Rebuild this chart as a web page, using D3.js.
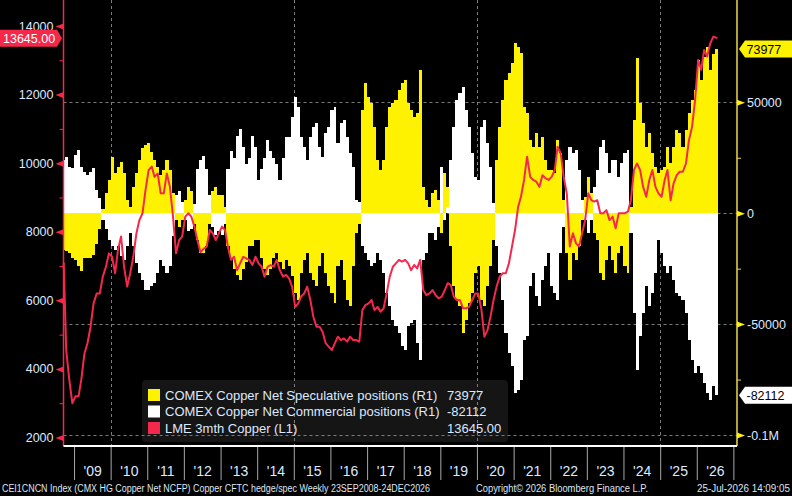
<!DOCTYPE html>
<html><head><meta charset="utf-8">
<script src="https://cdn.jsdelivr.net/npm/d3@7/dist/d3.min.js"></script>
<style>html,body{margin:0;padding:0;background:#000;}svg{display:block;}</style>
</head><body>
<svg id="chart" width="792" height="496"></svg>
<script>
// ---- data (monthly, Sep 2008 .. Jul 2026) ----
const firstMonth = [2008, 8];   // Sep 2008 (month index 0-based)
const lmeCopper = [
 7100,4550,3680,3000,
 3200,3200,3700,4450,4750,5230,5910,6200,6200,6690,6980,7370,
 7270,6790,7470,7860,6980,6400,6790,7270,7955,8340,8540,9220,
 9800,9900,9600,9700,9120,9120,9700,9310,8440,7370,7760,7860,
 8440,8540,8440,8150,7760,7400,7500,7560,8050,7955,7760,7955,
 8150,8050,7560,7180,7270,6880,7080,7270,7220,7180,7030,7270,
 7080,6980,6690,6980,7030,6980,7180,6880,6690,6740,6640,6400,
 5810,5910,6110,6200,6400,6010,5520,5230,5230,5085,4750,4650,
 4550,4750,4940,4840,4890,4795,4940,4840,4840,4795,5720,5860,
 5910,6010,5720,5810,5670,5770,6200,6690,6980,7080,7180,7130,
 7180,7080,6880,7030,6930,7180,6300,6150,6200,6300,6150,6060,
 6110,6300,6500,6450,6110,6010,6010,5770,5770,5810,6010,6200,
 6200,5720,4940,5130,5520,6010,6400,6690,6790,6790,7080,7560,
 8050,8730,9020,9510,10190,9600,9510,9460,9310,9650,9560,9510,
 9600,9800,10480,10290,9600,9120,7570,7955,7660,7570,7955,8340,
 9120,8920,8880,8920,8540,8540,8630,8340,8440,8100,8540,8540,
 8540,8590,8920,9800,9990,9800,9310,9020,9510,9800,9310,9120,
 9020,9510,9800,8920,9410,9650,9750,9750,9990,10670,11060,11840,
 13010,12720,13300,13110,13490,13690,13645
];
const specNet = [
 -16500,-17000,-18000,-20000,
 -21000,-24000,-26000,-20000,-20000,-20000,-19000,-14000,-7000,2000,9000,15000,
 25500,18000,21000,23300,18000,6000,3000,12000,18000,24000,29300,30800,
 31500,27800,24000,21000,17300,19500,24000,19500,9000,-3000,-6000,-3000,
 6000,12000,10000,-5000,-12000,-18000,-18000,-15000,-5000,10000,12000,8000,
 8000,3000,-15000,-20000,-25000,-28000,-30000,-25000,-22000,-15000,-15000,-12000,
 -12000,-20000,-25000,-28000,-25000,-20000,-18000,-22000,-25000,-21000,-24000,-28500,
 -36000,-39000,-27000,-21000,-18000,-27000,-30000,-33000,-24000,-18000,-27000,-33000,
 -36000,-40500,-24000,-21000,-30000,-39000,-42000,-24000,-9000,-5000,46500,58500,
 52500,49500,39000,24000,19500,24000,39000,48000,49500,51000,55500,58500,
 60000,49500,46500,43500,45000,64500,12000,6000,3000,9000,10500,6000,
 -9000,18000,12000,-15000,-33000,-39000,-42000,-54000,-48000,-40500,-36000,-27000,
 -24000,-39000,-42000,-33000,-24000,-12000,24000,39000,51000,60000,63000,67500,
 76600,75100,72100,48000,45000,33000,30000,36000,30000,34500,24000,19500,
 19500,18000,33000,27000,6000,-18000,-30000,-18000,-21000,-15000,-3000,7500,
 16500,9000,-9000,-12000,-27000,-30000,-21000,-15000,-21000,-27000,-18000,-15000,
 -24000,-27000,3000,42000,70000,49500,40500,30000,36000,27000,21000,18000,
 19500,21000,30000,22500,30000,37500,36000,30000,37500,45000,51000,55500,
 69000,60000,70500,75000,64500,72000,73977
];
const commNet = [
 24000,25500,21000,20300,
 26300,28500,21000,18800,17300,18800,20300,10500,6800,-3000,-7000,-12000,
 -15000,-16500,-15000,-19500,-21000,-15000,-9000,-15000,-22500,-27000,-30000,-34500,
 -34500,-33000,-31500,-27000,-21000,-24000,-27000,-24000,-10500,8000,10000,5000,
 -3000,-8000,-7000,4000,20000,24000,26000,20000,8000,-6000,-10000,-8000,
 -10000,-5000,20000,28000,25000,35000,38000,30000,22000,25000,35000,30000,
 15000,20000,25000,33000,28000,25000,22000,15000,25000,34500,34500,43500,
 52600,48000,34500,30000,24000,34500,39000,40500,30000,25500,36000,39000,
 46500,48000,31500,40500,42000,34500,27000,21000,6000,5000,-15000,-18000,
 -21000,-24000,-22500,-18000,-21000,-27000,-36000,-42000,-48000,-51000,-54000,-60000,
 -61500,-51000,-49500,-48000,-58500,-66000,-21000,-18000,-9000,-9000,-12000,-6000,
 21000,-3000,3000,24000,39000,51000,54000,57000,46500,39000,27000,16500,
 15000,39000,42000,31500,21000,4500,-15000,-27000,-39000,-54000,-63000,-69000,
 -81100,-79600,-75100,-57000,-55500,-33000,-27000,-37500,-42000,-30000,-24000,-18000,
 -33000,-36000,-39000,-18000,-6000,24000,30000,27000,28500,19500,6000,-3000,
 -9000,-3000,12000,19500,30000,33000,27000,18000,24000,24000,16500,22500,
 27000,28500,-9000,-45000,-70500,-55500,-45000,-33000,-42000,-36000,-27000,-12000,
 -18000,-24000,-27000,-24000,-30000,-36000,-37500,-39000,-45000,-57000,-66000,-72000,
 -69000,-72000,-76500,-81000,-84000,-78000,-82112
];
const yearLabels = ["'09","'10","'11","'12","'13","'14","'15","'16","'17","'18","'19","'20","'21","'22","'23","'24","'25","'26"];
const leftTicks = [2000,4000,6000,8000,10000,12000,14000];
const rightTicks = [-100000,-50000,0,50000];
const legendNames = ["COMEX Copper Net Speculative positions (R1)","COMEX Copper Net Commercial positions (R1)","LME 3mth Copper (L1)"];
const legendValues = ["73977","-82112","13645.00"];
const footerLeft = "CEI1CNCN Index (CMX HG Copper Net NCFP) Copper CFTC hedge/spec Weekly 23SEP2008-24DEC2026";
const footerMid = "Copyright\u00a9 2026 Bloomberg Finance L.P.";
const footerRight = "25-Jul-2026 14:09:05";

// ---- setup ----
const C = {yellow:"#fff200", white:"#ffffff", red:"#f5284c", axisY:"#efd64a", text:"#dde9ff", grid:"#7c7c7c"};
const svg = d3.select("#chart");
svg.append("rect").attr("width",792).attr("height",496).attr("fill","#000");
const font = "'Liberation Sans', Arial, sans-serif";

const L = 63.5, R = 737, B = 446;
const dStart = new Date(2008,8,18), dEnd = new Date(2027,1,6);
const x = d3.scaleTime().domain([dStart,dEnd]).range([L,R]);
const yL = d3.scaleLinear().domain([2000,14000]).range([437.5,26]);
const yR = d3.scaleLinear().domain([-100000,50000]).range([435,102.3]);

const months = lmeCopper.map((_,i)=>new Date(firstMonth[0], firstMonth[1]+i, 1));
const dataStart = new Date(2008,8,20), dataEnd = new Date(2026,6,25);
const barEnd = new Date(2026,7,1);

// gridlines
function drawGrid(g){
  g.selectAll(".h").data(rightTicks).join("line").attr("class","h")
   .attr("x1",L).attr("x2",R).attr("y1",d=>Math.round(yR(d))+0.5).attr("y2",d=>Math.round(yR(d))+0.5)
   .attr("stroke",C.grid).attr("stroke-dasharray","3,3");
  g.selectAll(".v").data([2010,2015,2020,2025]).join("line").attr("class","v")
   .attr("x1",d=>Math.round(x(new Date(d,0,1)))+0.5).attr("x2",d=>Math.round(x(new Date(d,0,1)))+0.5)
   .attr("y1",0).attr("y2",B).attr("stroke",C.grid).attr("stroke-dasharray","3,3");
}
drawGrid(svg.append("g"));

// bars as stepped areas (one block per month)
function bars(vals, color){
  const steps = vals.map((v,i)=>[i===0?dataStart:months[i], v]);
  steps.push([barEnd, vals[vals.length-1]]);
  svg.append("path").datum(steps)
    .attr("d", d3.area().curve(d3.curveStepAfter).x(d=>x(d[0])).y0(yR(0)).y1(d=>yR(d[1])))
    .attr("fill",color).attr("shape-rendering","crispEdges");
}
bars(specNet, C.yellow);
bars(commNet, C.white);

// red line
const pts = lmeCopper.map((v,i)=>{
  let dt = new Date(months[i].getFullYear(), months[i].getMonth(), 15);
  if(i===0) dt = dataStart;
  if(i===lmeCopper.length-1) dt = dataEnd;
  return [dt,v];
});
svg.append("path").datum(pts)
  .attr("d", d3.line().x(d=>x(d[0])).y(d=>yL(d[1])))
  .attr("fill","none").attr("stroke",C.red).attr("stroke-width",2).attr("stroke-linejoin","round");

// legend box
const lg = svg.append("g");
lg.append("rect").attr("x",142).attr("y",380).attr("width",366).attr("height",62).attr("rx",4).attr("fill","#151515");
svg.append("clipPath").attr("id","lgclip").append("rect").attr("x",142).attr("y",380).attr("width",366).attr("height",62);
drawGrid(svg.append("g").attr("clip-path","url(#lgclip)"));
const lcol = [C.yellow, C.white, C.red];
const lgt = svg.append("g");
legendNames.forEach((n,i)=>{
  const yy = 389 + i*16.5;
  lgt.append("rect").attr("x",148).attr("y",yy).attr("width",12).attr("height",12).attr("fill",lcol[i]);
  lgt.append("text").attr("x",165).attr("y",yy+10.5).text(n);
  lgt.append("text").attr("x",447).attr("y",yy+10.5).text(legendValues[i]);
});
lgt.selectAll("text").attr("fill",C.text).attr("font-family",font).attr("font-size","13px");

// left axis
svg.append("line").attr("x1",L).attr("x2",L).attr("y1",0).attr("y2",B).attr("stroke",C.red).attr("stroke-width",1.5);
const ax = svg.append("g").attr("transform",`translate(${L},0)`)
  .call(d3.axisLeft(yL).tickValues(leftTicks).tickSize(0).tickPadding(10).tickFormat(d3.format("d")));
ax.select(".domain").remove();
ax.selectAll("text").attr("fill",C.text).attr("font-family",font).attr("font-size","12.5px");
ax.selectAll(".tick").append("path").attr("d","M0,-3L-8,0L0,3Z").attr("fill",C.red);
const axm = svg.append("g").attr("transform",`translate(${L},0)`)
  .call(d3.axisLeft(yL).tickValues(d3.range(3000,14000,2000)).tickSize(4).tickFormat(""));
axm.select(".domain").remove(); axm.selectAll("line").attr("stroke",C.red);

// right axis
svg.append("line").attr("x1",R).attr("x2",R).attr("y1",0).attr("y2",B).attr("stroke",C.axisY).attr("stroke-width",1.5);
const fmtR = d => d===0?"0":(d===-100000?"-0.1M":String(d));
const ar = svg.append("g").attr("transform",`translate(${R},0)`)
  .call(d3.axisRight(yR).tickValues(rightTicks).tickSize(0).tickPadding(10).tickFormat(fmtR));
ar.select(".domain").remove();
ar.selectAll("text").attr("fill",C.text).attr("font-family",font).attr("font-size","12.5px");
ar.selectAll(".tick").append("path").attr("d","M0,-3L8,0L0,3Z").attr("fill",C.yellow);
const arm = svg.append("g").attr("transform",`translate(${R},0)`)
  .call(d3.axisRight(yR).tickValues([-75000,-25000,25000]).tickSize(4).tickFormat(""));
arm.select(".domain").remove(); arm.selectAll("line").attr("stroke",C.axisY);

// bottom axis
svg.append("line").attr("x1",L).attr("x2",R).attr("y1",B).attr("y2",B).attr("stroke","#fff").attr("stroke-width",2);
const yearTicks = d3.range(2009,2028).map(y=>new Date(y,0,1));
const axb = svg.append("g").attr("transform",`translate(0,${B+1})`)
  .call(d3.axisBottom(x).tickValues(yearTicks).tickSize(33).tickFormat(""));
axb.select(".domain").remove(); axb.selectAll("line").attr("stroke","#a8a8a8");
const midYears = d3.range(2009,2027).map(y=>new Date(y,6,1));
const axl = svg.append("g").attr("transform",`translate(0,${B})`)
  .call(d3.axisBottom(x).tickValues(midYears).tickSize(0).tickPadding(20).tickFormat((d,i)=>yearLabels[i]));
axl.select(".domain").remove();
axl.selectAll("text").attr("fill",C.text).attr("font-family",font).attr("font-size","14px");

// value labels
function tag(side, yv, txt, bg, fg){
  const g = svg.append("g");
  const h = 17, y0 = yv - h/2;
  if(side==="L"){
    g.append("path").attr("d",`M0,${y0}H57L62,${yv}L57,${y0+h}H0Z`).attr("fill",bg);
    g.append("text").attr("x",3).attr("y",yv+4.5).text(txt);
  } else {
    g.append("path").attr("d",`M792,${y0}H745L739,${yv}L745,${y0+h}H792Z`).attr("fill",bg);
    g.append("text").attr("x",746.5).attr("y",yv+4.5).text(txt);
  }
  g.select("text").attr("fill",fg).attr("font-family",font).attr("font-size","12.5px");
}
tag("L", yL(lmeCopper[lmeCopper.length-1]), d3.format(".2f")(lmeCopper[lmeCopper.length-1]), C.red, "#fff");
tag("R", yR(specNet[specNet.length-1]), String(specNet[specNet.length-1]), C.yellow, "#000");
tag("R", yR(commNet[commNet.length-1]), String(commNet[commNet.length-1]), "#fff", "#000");

// footer
const ft = svg.append("g").attr("fill","#dde6f5").attr("font-family",font).attr("font-size","10px");
ft.append("text").attr("x",2).attr("y",492).attr("textLength",428).attr("lengthAdjust","spacingAndGlyphs").text(footerLeft);
ft.append("text").attr("x",476).attr("y",492).attr("textLength",172).attr("lengthAdjust","spacingAndGlyphs").text(footerMid);
ft.append("text").attr("x",697).attr("y",492).attr("textLength",93).attr("lengthAdjust","spacingAndGlyphs").text(footerRight);
</script>
</body></html>
